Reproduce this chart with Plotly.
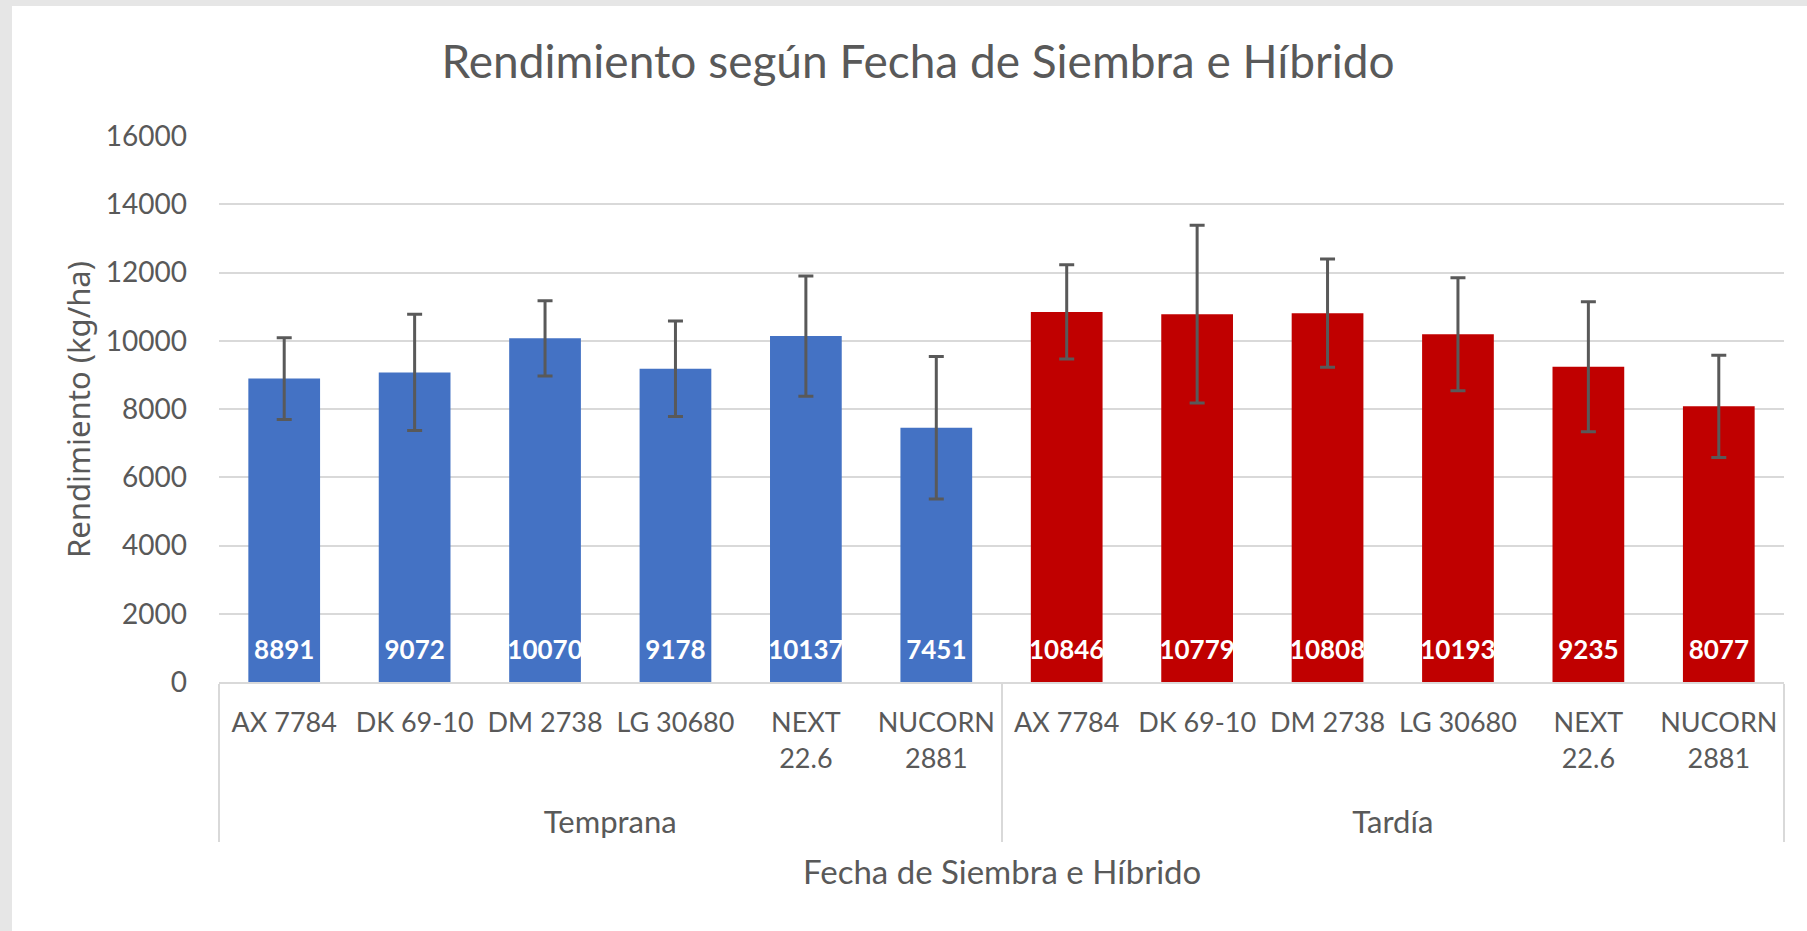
import plotly.graph_objects as go

# ---- data ----
groups = ["Temprana"] * 6 + ["Tardía"] * 6
hybrid_labels = ["AX 7784", "DK 69-10", "DM 2738", "LG 30680", "NEXT<br>22.6", "NUCORN<br>2881"] * 2
values = [8891, 9072, 10070, 9178, 10137, 7451, 10846, 10779, 10808, 10193, 9235, 8077]
errors = [1200, 1705, 1105, 1400, 1760, 2085, 1380, 2605, 1585, 1655, 1905, 1500]
group_colors = {"Temprana": "#4472C4", "Tardía": "#C00000"}
y_ticks = [0, 2000, 4000, 6000, 8000, 10000, 12000, 14000, 16000]

TXT = "#595959"
GRID = "#d9d9d9"

# display strings: group names a bit larger; an empty trailing line under each
# hybrid label pushes the group row (and the dividers) lower, as in the original
group_display = ["<span style='font-size:31px'>" + g + "</span>" for g in groups]
x_display = [lab + "<br><span style='font-size:67px'>&nbsp;</span>" for lab in hybrid_labels]

fig = go.Figure()
fig.add_trace(go.Bar(
    x=[group_display, x_display],
    y=values,
    marker=dict(color=[group_colors[g] for g in groups], line=dict(width=0)),
    error_y=dict(type="data", array=errors, color="#595959", thickness=3, width=7.5),
    texttemplate="<span style='font-size:26px'>%{y:d}</span><br>&nbsp;",
    textposition="inside",
    insidetextanchor="start",
    constraintext="none",
    textangle=0,
    textfont=dict(family="Lato", size=13, color="white", weight="bold"),
    hovertemplate="%{y}<extra></extra>",
    showlegend=False,
))

fig.update_layout(
    width=1807, height=931,
    margin=dict(l=219, r=23, t=136, b=249),
    paper_bgcolor="white", plot_bgcolor="white",
    bargap=0.45,
    title=dict(text="Rendimiento según Fecha de Siembra e Híbrido",
               x=918 / 1807, xref="container", xanchor="center",
               y=1 - 62 / 931, yref="container", yanchor="middle",
               font=dict(family="Lato", size=46, color=TXT)),
    xaxis=dict(
        tickfont=dict(family="Lato", size=27, color=TXT),
        showgrid=False, showline=True, linecolor=GRID, linewidth=2,
        dividercolor=GRID, dividerwidth=2, ticks="",
        ticklabelstandoff=16,
    ),
    yaxis=dict(
        range=[0, 16000], tickvals=y_ticks, tickformat="d",
        tickfont=dict(family="Lato", size=28, color=TXT),
        gridcolor=GRID, gridwidth=2, zeroline=False, showline=False,
        ticklabelstandoff=31,
    ),
    annotations=[
        dict(text="Rendimiento (kg/ha)", xref="paper", yref="paper",
             x=(78 - 219) / 1564, y=0.5, textangle=-90, showarrow=False,
             xanchor="center", yanchor="middle",
             font=dict(family="Noto Sans", size=31, color=TXT)),
        dict(text="Fecha de Siembra e Híbrido", xref="paper", yref="paper",
             x=0.5, y=(681.6 - 870) / 545.6, showarrow=False,
             xanchor="center", yanchor="middle",
             font=dict(family="Lato", size=33, color=TXT)),
    ],
    shapes=[
        dict(type="rect", xref="paper", yref="paper", layer="below",
             x0=-0.2, x1=1.2, ysizemode="pixel", yanchor=1, y0=130, y1=150,
             fillcolor="#e6e6e6", line=dict(width=0)),
        dict(type="rect", xref="paper", yref="paper", layer="below",
             xsizemode="pixel", xanchor=0, x0=-240, x1=-207, y0=-0.6, y1=1.4,
             fillcolor="#e6e6e6", line=dict(width=0)),
    ],
)

fig.write_html("out.html", config={"displayModeBar": False},
               post_script="document.body.style.margin='0';document.body.style.overflow='hidden';")
